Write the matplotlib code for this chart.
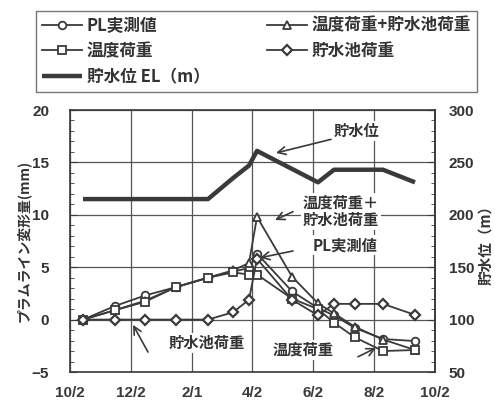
import matplotlib
matplotlib.use("Agg")
import matplotlib.pyplot as plt
from matplotlib.ticker import MultipleLocator, FixedLocator

plt.rcParams['font.family'] = ['Noto Sans CJK JP', 'DejaVu Sans']

# ---- data (x = days after 10/2) ----
days = [13, 45, 75, 106, 138, 163, 179, 187, 222, 248, 264, 285, 313, 345]
pl_measured = [0, 1.3, 2.3, 3.1, 4.0, 4.6, 4.9, 6.3, 2.7, 1.1, 0.4, -0.8, -1.85, -2.05]
temp_plus_res = [0, 0.9, 1.8, 3.1, 4.0, 4.7, 5.4, 9.8, 4.1, 1.55, 0.6, -0.7, -1.9, -2.9]
temp_load = [0, 0.9, 1.7, 3.1, 4.0, 4.5, 4.3, 4.3, 2.0, 1.0, -0.3, -1.7, -3.0, -2.9]
res_load = [0, 0, 0, 0, 0, 0.7, 1.9, 5.8, 1.9, 0.4, 1.5, 1.5, 1.5, 0.45]

wl_days = [13, 138, 163, 179, 187, 248, 264, 313, 345]
water_level = [215, 215, 235, 247, 261, 231, 243, 243, 231]

xtick_pos = [0, 61, 122, 182, 243, 304, 365]
xtick_labels = ['10/2', '12/2', '2/1', '4/2', '6/2', '8/2', '10/2']

labels = ['PL実測値', '温度荷重+貯水池荷重', '温度荷重', '貯水池荷重', '貯水位 EL（m）']

C = '#3a3a3a'
TXT = '#333333'

fig = plt.figure(figsize=(4.95, 4.0), dpi=100)
ax = fig.add_axes([70/495, 1-372/400, 365/495, 262/400])
ax2 = ax.twinx()

mk = dict(color=C, lw=1.3, markersize=5.5, markerfacecolor='white', markeredgecolor=C, markeredgewidth=1.3)
h1, = ax.plot(days, pl_measured, marker='o', **mk)
h2, = ax.plot(days, temp_plus_res, marker='^', **mk)
h3, = ax.plot(days, temp_load, marker='s', **mk)
h4, = ax.plot(days, res_load, marker='D', **dict(mk, markersize=5, markeredgewidth=1.6))
h5, = ax2.plot(wl_days, water_level, color=C, lw=3.2, solid_capstyle='butt')

ax.set_xlim(0, 365)
ax.set_ylim(-5, 20)
ax2.set_ylim(50, 300)
ax.xaxis.set_major_locator(FixedLocator(xtick_pos))
ax.set_xticklabels(xtick_labels)
ax.yaxis.set_major_locator(MultipleLocator(5))
ax.yaxis.set_minor_locator(MultipleLocator(1))
ax2.yaxis.set_major_locator(MultipleLocator(50))
ax2.yaxis.set_minor_locator(MultipleLocator(10))

ax.grid(True, which='major', color='#555555', lw=0.9)
ax.set_axisbelow(True)

for lab in ax.get_xticklabels() + ax.get_yticklabels() + ax2.get_yticklabels():
    lab.set_fontfamily('Liberation Sans')
    lab.set_fontweight('bold')
    lab.set_fontsize(11)
    lab.set_color(TXT)

ax.tick_params(axis='x', direction='in', length=0, pad=10, colors=C)
ax.tick_params(axis='y', which='major', direction='in', length=5, pad=15, colors=C, labelcolor=TXT)
ax.tick_params(axis='y', which='minor', direction='in', length=3, colors=C)
ax2.tick_params(axis='y', which='major', direction='in', length=5, pad=10, colors=C, labelcolor=TXT)
ax2.tick_params(axis='y', which='minor', direction='in', length=3, colors=C)

for s in ['top', 'bottom']:
    ax.spines[s].set_linestyle((0, (1, 1)))
    ax.spines[s].set_linewidth(1.2)
    ax.spines[s].set_color(C)
    ax2.spines[s].set_visible(False)
for s in ['left', 'right']:
    ax.spines[s].set_color(C)
    ax.spines[s].set_linewidth(1.2)
ax2.spines['left'].set_visible(False)
ax2.spines['right'].set_color(C)
ax2.spines['right'].set_linewidth(1.2)

ax.set_ylabel('プラムライン変形量(mm)', fontsize=10, fontweight='bold', color=TXT)
ax.yaxis.set_label_coords(-39/365, 0.5)
ax2.set_ylabel('貯水位（m）', fontsize=10.5, fontweight='bold', color=TXT, rotation=90)
ax2.yaxis.set_label_coords(1 + 42/365, 0.5)

# annotations
tk = dict(fontsize=11, fontweight='bold', color=TXT, ha='center', va='center',
          bbox=dict(facecolor='white', edgecolor='none', pad=1.5))
ap = dict(arrowstyle='->', color=C, lw=1.2, shrinkA=0, shrinkB=0, mutation_scale=14)
ax.text(287, 18.0, '貯水位', **tk)
ax.annotate('', xy=(206, 15.9), xytext=(261, 17.2), arrowprops=ap)
ax.text(271, 10.3, '温度荷重＋\n貯水池荷重', linespacing=1.1, **tk)
ax.annotate('', xy=(205, 9.5), xytext=(223, 10.3), arrowprops=ap)
ax.text(275, 7.1, 'PL実測値', **tk)
ax.annotate('', xy=(190, 5.9), xytext=(223, 6.55), arrowprops=ap)
ax.text(137, -2.25, '貯水池荷重', **tk)
ax.annotate('', xy=(63, -0.5), xytext=(78, -3.1), arrowprops=ap)
ax.text(233, -2.9, '温度荷重', **tk)
ax.annotate('', xy=(306, -2.7), xytext=(288, -3.55), arrowprops=ap)

leg = fig.legend([h1, h3, h5, h2, h4], [labels[0], labels[2], labels[4], labels[1], labels[3]],
                 ncol=2, loc='upper left', mode='expand',
                 bbox_to_anchor=(36/495, 1-11/400, 441/495, 0),
                 frameon=True, fancybox=False, edgecolor='#555555',
                 handlelength=2.4, handletextpad=0.3, labelspacing=0.45,
                 borderpad=0.35, borderaxespad=0, prop=dict(size=12, weight='bold'))
leg.get_frame().set_linewidth(1.0)
for t in leg.get_texts():
    t.set_color(TXT)

fig.savefig('out.png', dpi=100)
